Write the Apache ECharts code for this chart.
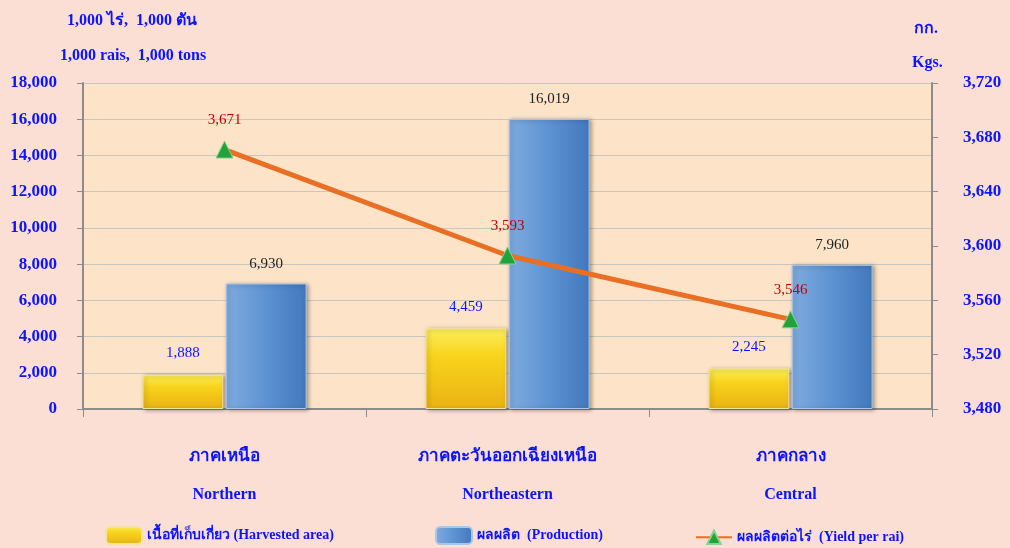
<!DOCTYPE html>
<html>
<head>
<meta charset="utf-8">
<script src="https://cdn.jsdelivr.net/npm/echarts@6/dist/echarts.min.js"></script>
<style>
  html, body { margin: 0; padding: 0; background: #fcdfd4; }
  #chart { width: 1010px; height: 548px; }
</style>
</head>
<body>
<div id="chart"></div>
<script>
  // ภาค (regions)
  var regionsTh = ['ภาคเหนือ', 'ภาคตะวันออกเฉียงเหนือ', 'ภาคกลาง'];
  var regionsEn = ['Northern', 'Northeastern', 'Central'];
  // 1,000 rais / 1,000 tons
  var harvestedArea = [1888, 4459, 2245];
  var production = [6930, 16019, 7960];
  // kgs per rai
  var yieldPerRai = [3671, 3593, 3546];

  var seriesNames = [
    'เนื้อที่เก็บเกี่ยว (Harvested area)',
    'ผลผลิต  (Production)',
    'ผลผลิตต่อไร่  (Yield per rai)'
  ];

  var blue = '#0a14ff';
  var font = '"Liberation Serif", "Times New Roman", serif';

  var chart = echarts.init(document.getElementById('chart'));

  var categories = regionsTh.map(function (t, i) { return t + '\n' + regionsEn[i]; });

  function fmt(v) { return v.toLocaleString('en-US'); }

  // one legend per item so each sits where the original puts it
  var legendLeft = [100, 430, 690];
  var legends = seriesNames.map(function (n, i) {
    return {
      bottom: -2,
      left: legendLeft[i],
      itemWidth: 36,
      itemHeight: 17,
      itemGap: 4,
      textStyle: { color: blue, fontWeight: 'bold', fontSize: 14, fontFamily: font },
      data: [n]
    };
  });

  var option = {
    backgroundColor: '#fcdfd4',
    textStyle: { fontFamily: font },
    graphic: [
      { type: 'text', left: 67, top: 13, style: { text: '1,000 ไร่,  1,000 ตัน', fill: blue, font: 'bold 16px ' + font } },
      { type: 'text', left: 60, top: 48, style: { text: '1,000 rais,  1,000 tons', fill: blue, font: 'bold 16px ' + font } },
      { type: 'text', left: 914, top: 21, style: { text: 'กก.', fill: blue, font: 'bold 16px ' + font } },
      { type: 'text', left: 912, top: 55, style: { text: 'Kgs.', fill: blue, font: 'bold 16px ' + font } }
    ],
    grid: {
      left: 83, right: 78, top: 83, bottom: 139,
      show: true, backgroundColor: '#fde4c8', borderWidth: 0
    },
    legend: legends,
    xAxis: {
      type: 'category',
      data: categories,
      axisLine: { lineStyle: { color: '#8c8c8c', width: 2 } },
      axisTick: { show: true, length: 8, lineStyle: { color: '#8c8c8c' } },
      axisLabel: {
        margin: 29,
        formatter: function (v) {
          var p = v.split('\n');
          return '{th|' + p[0] + '}\n{en|' + p[1] + '}';
        },
        rich: {
          th: { color: blue, fontWeight: 'bold', fontSize: 17, fontFamily: font, lineHeight: 38 },
          en: { color: blue, fontWeight: 'bold', fontSize: 16, fontFamily: font, lineHeight: 38 }
        }
      }
    },
    yAxis: [
      {
        type: 'value', min: 0, max: 18000, interval: 2000,
        axisLine: { show: true, lineStyle: { color: '#8c8c8c', width: 2 } },
        axisTick: { show: true, length: 6, lineStyle: { color: '#8c8c8c' } },
        splitLine: { lineStyle: { color: '#c9c6c0', width: 1 } },
        axisLabel: {
          color: blue, fontWeight: 'bold', fontSize: 17, fontFamily: font, margin: 26,
          formatter: fmt
        }
      },
      {
        type: 'value', min: 3480, max: 3720, interval: 40,
        axisLine: { show: true, lineStyle: { color: '#8c8c8c', width: 2 } },
        axisTick: { show: true, length: 6, lineStyle: { color: '#8c8c8c' } },
        splitLine: { show: false },
        axisLabel: {
          color: blue, fontWeight: 'bold', fontSize: 17, fontFamily: font, margin: 31,
          formatter: fmt
        }
      }
    ],
    series: [
      {
        name: seriesNames[0],
        type: 'bar',
        data: harvestedArea,
        barGap: '3%',
        barCategoryGap: '42%',
        itemStyle: {
          color: new echarts.graphic.LinearGradient(0, 0, 0, 1, [
            { offset: 0, color: '#fbee5a' },
            { offset: 0.35, color: '#f8d31c' },
            { offset: 1, color: '#eab214' }
          ]),
          borderColor: '#f3e3a0', borderWidth: 1,
          shadowBlur: 4, shadowColor: 'rgba(0,0,0,0.35)', shadowOffsetX: 2, shadowOffsetY: 1
        },
        label: {
          show: true, position: 'top', distance: 14,
          color: blue, fontSize: 15, fontFamily: font,
          formatter: function (p) { return fmt(p.value); }
        }
      },
      {
        name: seriesNames[1],
        type: 'bar',
        data: production,
        itemStyle: {
          color: new echarts.graphic.LinearGradient(0, 0, 1, 0, [
            { offset: 0, color: '#7fabdf' },
            { offset: 0.5, color: '#5d93d2' },
            { offset: 1, color: '#4278bd' }
          ]),
          borderColor: '#a9c7ea', borderWidth: 1,
          shadowBlur: 4, shadowColor: 'rgba(0,0,0,0.35)', shadowOffsetX: 2, shadowOffsetY: 1
        },
        label: {
          show: true, position: 'top', distance: 12,
          color: '#222', fontSize: 15, fontFamily: font,
          formatter: function (p) { return fmt(p.value); }
        }
      },
      {
        name: seriesNames[2],
        type: 'line',
        yAxisIndex: 1,
        data: yieldPerRai,
        symbol: 'triangle',
        symbolSize: 17,
        itemStyle: { color: '#1fa33a', borderColor: '#8fd08f', borderWidth: 1 },
        lineStyle: { color: '#e86f24', width: 5 },
        z: 5,
        label: {
          show: true, position: 'top', distance: 13,
          color: '#c00000', fontSize: 15, fontFamily: font,
          formatter: function (p) { return fmt(p.value); }
        }
      }
    ]
  };

  chart.setOption(option);
</script>
</body>
</html>
